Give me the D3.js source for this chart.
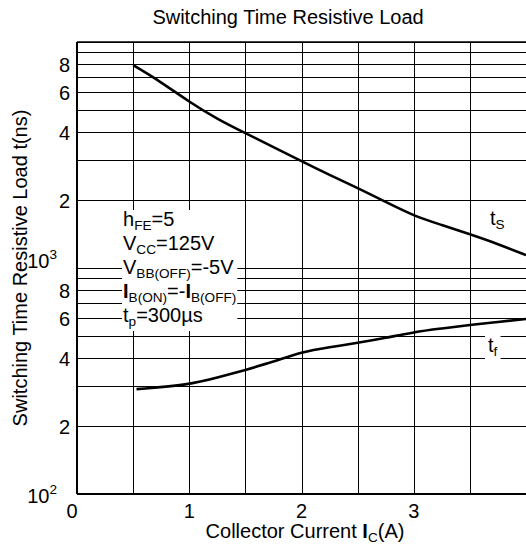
<!DOCTYPE html>
<html>
<head>
<meta charset="utf-8">
<script src="https://cdn.jsdelivr.net/npm/d3@7"></script>
<style>
  body { margin: 0; background: #fff; }
  text { font-family: "Liberation Sans", Arial, sans-serif; fill: #000; }
</style>
</head>
<body>
<div id="chart"></div>
<script>
// storage time t_S
const tsCurrent = [0.5, 0.75, 1.0, 1.25, 1.5, 1.75, 2.0, 2.25, 2.5, 2.75, 3.0, 3.25, 3.5, 3.75, 4.0];
const tsTime    = [7900, 6650, 5430, 4560, 3950, 3430, 2970, 2580, 2260, 1960, 1700, 1550, 1410, 1277, 1140];

// fall time t_f
const tfCurrent = [0.53, 1.0, 1.25, 1.5, 1.75, 2.0, 2.25, 2.5, 2.75, 3.0, 3.25, 3.5, 3.75, 4.0];
const tfTime    = [291, 304, 327, 354, 384, 425, 446, 466, 490, 521, 540, 560, 577, 595];

const xTickValues = [0, 1, 2, 3];
const yTickValues = [100, 200, 400, 600, 800, 1000, 2000, 4000, 6000, 8000];
const yTickLabels = [["10", "2"], ["2"], ["4"], ["6"], ["8"], ["10", "3"], ["2"], ["4"], ["6"], ["8"]];

const titleText = "Switching Time Resistive Load";
const xTitle = [["Collector Current ", ""], ["I", "b"], ["C", "sub"], ["(A)", ""]];
const yTitle = "Switching Time Resistive Load t(ns)";

const notes = [
  [["h", ""], ["FE", "sub"], ["=5", ""]],
  [["V", ""], ["CC", "sub"], ["=125V", ""]],
  [["V", ""], ["BB(OFF)", "sub"], ["=-5V", ""]],
  [["I", "b"], ["B(ON)", "sub"], ["=-", ""], ["I", "b"], ["B(OFF)", "sub"]],
  [["t", ""], ["p", "sub"], ["=300\u00b5s", ""]]
];

let width = 526, height = 545;
let margin = {top: 42, bottom: 51, left: 77, right: 0};
let fontSize = 20;
let stretch = 1.0;

let svg = d3.select("#chart").append("svg")
            .attr("width", width)
            .attr("height", height);

let x = d3.scaleLinear()
          .domain([0, 4])
          .range([margin.left, width - margin.right]);

let y = d3.scaleLog()
          .domain([100, 10000])
          .range([height - margin.bottom, margin.top]);

/* text with sub / sup / bold pieces */
function richText(t, segs, size) {
  let shift = 0;
  segs.forEach(([str, kind]) => {
    let target = kind === "sub" ? 4 : kind === "sup" ? -9 : 0;
    t.append("tspan")
       .attr("dy", target - shift)
       .attr("font-size", (kind === "sub" || kind === "sup") ? size * 0.68 : size)
       .attr("font-weight", kind === "b" ? "bold" : null)
       .text(str);
    shift = target;
  });
  return t;
}

function place(t, px, py, rot) {
  return t.attr("transform", `translate(${px},${py})` + (rot ? ` rotate(${rot})` : "") + ` scale(${stretch},1)`);
}

// grid
let grid = svg.append("g");
grid.selectAll("line.h")
    .data(y.ticks())
    .enter().append("line")
      .attr("class", "h")
      .attr("x1", x(0)).attr("x2", x(4))
      .attr("y1", d => Math.round(y(d)) + 0.5)
      .attr("y2", d => Math.round(y(d)) + 0.5)
      .attr("stroke", "#000")
      .attr("stroke-width", 1);

grid.selectAll("line.v")
    .data(x.ticks(8))
    .enter().append("line")
      .attr("class", "v")
      .attr("y1", y(100)).attr("y2", y(10000))
      .attr("x1", d => Math.round(x(d)) + 0.5)
      .attr("x2", d => Math.round(x(d)) + 0.5)
      .attr("stroke", "#000")
      .attr("stroke-width", 1);

// frame
svg.append("line")
   .attr("x1", x(0)).attr("x2", x(0))
   .attr("y1", y(10000)).attr("y2", y(100))
   .attr("stroke", "#000").attr("stroke-width", 2);
svg.append("line")
   .attr("x1", x(0)).attr("x2", x(4))
   .attr("y1", y(100)).attr("y2", y(100))
   .attr("stroke", "#000").attr("stroke-width", 2);
svg.append("line")
   .attr("x1", x(0)).attr("x2", x(4))
   .attr("y1", y(10000)).attr("y2", y(10000))
   .attr("stroke", "#000").attr("stroke-width", 1.5);

// curves
let line = d3.line()
             .x(d => x(d[0]))
             .y(d => y(d[1]))
             .curve(d3.curveBasis);

svg.append("path")
   .datum(tsCurrent.map((c, i) => [c, tsTime[i]]))
   .attr("d", line)
   .attr("fill", "none")
   .attr("stroke", "#000")
   .attr("stroke-width", 2.6);

svg.append("path")
   .datum(tfCurrent.map((c, i) => [c, tfTime[i]]))
   .attr("d", line)
   .attr("fill", "none")
   .attr("stroke", "#000")
   .attr("stroke-width", 2.6);

// y tick labels
yTickValues.forEach((v, i) => {
  let lab = yTickLabels[i];
  let t = svg.append("text")
             .attr("text-anchor", "end")
             .attr("font-size", fontSize);
  if (lab.length === 2) {
    richText(t, [[lab[0], ""], [lab[1], "sup"]], fontSize);
    place(t, 57, y(v) + (v === 100 ? 9 : 0));
  } else {
    t.text(lab[0]);
    place(t, 70, y(v) + 8);
  }
});

// x tick labels
xTickValues.forEach(v => {
  let t = svg.append("text")
             .attr("text-anchor", "middle")
             .attr("font-size", fontSize)
             .text(v);
  place(t, x(v) - (v === 0 ? 5 : 0), 518);
});

// titles
place(svg.append("text")
         .attr("text-anchor", "middle")
         .attr("font-size", fontSize)
         .text(titleText), 288, 24);

place(richText(svg.append("text")
                  .attr("text-anchor", "middle")
                  .attr("font-size", fontSize), xTitle, fontSize), 305, 538);

place(svg.append("text")
         .attr("text-anchor", "middle")
         .attr("font-size", fontSize)
         .text(yTitle), 27, 268, -90);

// conditions block with white backing
let noteGroup = svg.append("g");
let noteBack = noteGroup.append("rect").attr("fill", "#fff");
notes.forEach((segs, i) => {
  let t = noteGroup.append("text").attr("font-size", fontSize);
  richText(t, segs, fontSize);
  place(t, 123, 226 + i * 24);
});
let nb = noteGroup.node().getBBox();
noteBack.attr("x", nb.x - 1).attr("y", nb.y + 2)
        .attr("width", nb.width + 2).attr("height", nb.height);

// curve labels
let tsLabel = svg.append("text").attr("font-size", fontSize);
richText(tsLabel, [["t", ""], ["S", "sub"]], fontSize);
place(tsLabel, 490, 225);

let tfGroup = svg.append("g");
let tfBack = tfGroup.append("rect").attr("fill", "#fff");
let tfLabel = tfGroup.append("text").attr("font-size", fontSize);
richText(tfLabel, [["t", ""], ["f", "sub"]], fontSize);
place(tfLabel, 488, 352);
let fb = tfGroup.node().getBBox();
tfBack.attr("x", fb.x - 3).attr("y", fb.y - 2)
      .attr("width", fb.width + 6).attr("height", fb.height + 4);
</script>
</body>
</html>
